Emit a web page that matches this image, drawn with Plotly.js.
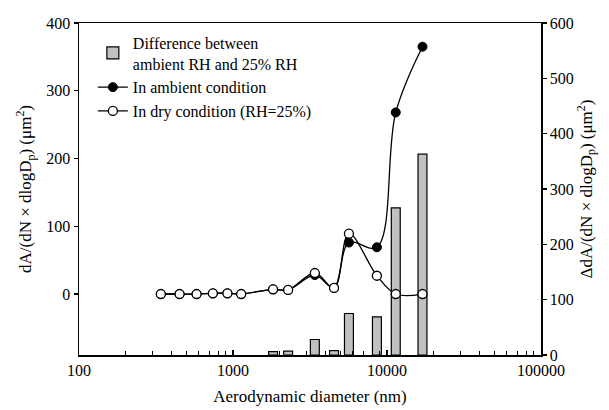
<!DOCTYPE html>
<html>
<head>
<meta charset="utf-8">
<script src="https://cdn.plot.ly/plotly-3.0.1.min.js"></script>
<style>html,body{margin:0;padding:0;background:#fff;}#chart{width:609px;height:410px;}</style>
</head>
<body>
<div id="chart"></div>
<script>
// Aerodynamic diameter (nm)
var diameter = [340, 450, 580, 740, 920, 1130, 1820, 2280, 3400, 4530, 5660, 8600, 11400, 17000];
// dA/(dN x dlogDp) in ambient condition
var ambient = [0, 0, 0, 1, 1, 0, 7, 6, 28, 9, 76, 69, 268, 365];
// dA/(dN x dlogDp) in dry condition (RH=25%)
var dry = [0, 0, 0, 1, 1, 0, 7, 6, 31, 9, 89, 27, 0, 0];
// Difference between ambient RH and 25% RH (right axis)
var diffDiameter = [1820, 2280, 3400, 4530, 5660, 8600, 11400, 17000];
var difference = [6, 7, 28, 8, 75, 69, 266, 363];

var xMajorTicks = [100, 1000, 10000, 100000];
var xMinorTicks = [200,300,400,500,600,700,800,900,2000,3000,4000,5000,6000,7000,8000,9000,20000,30000,40000,50000,60000,70000,80000,90000];
var yLeftTicks = [0, 100, 200, 300, 400];
var yRightTicks = [0, 100, 200, 300, 400, 500, 600];

var FAM = 'Liberation Serif';
var font = {family: FAM, size: 16, color: '#000'};

var traces = [
  {
    type: 'bar', name: 'Difference between<br>ambient RH and 25% RH',
    x: diffDiameter.map(function(d){ return Math.log10(d); }),
    y: difference, width: 0.058,
    xaxis: 'x', yaxis: 'y',
    marker: {color: '#c0c0c0', line: {color: '#000', width: 1.2}}
  },
  {
    type: 'scatter', mode: 'lines+markers', name: 'In ambient condition',
    x: diameter, y: ambient, xaxis: 'x2', yaxis: 'y2',
    line: {color: '#000', width: 1.3, shape: 'spline', smoothing: 1},
    marker: {symbol: 'circle', size: 9, color: '#000', line: {color: '#000', width: 1}}
  },
  {
    type: 'scatter', mode: 'lines+markers', name: 'In dry condition (RH=25%)',
    x: diameter, y: dry, xaxis: 'x2', yaxis: 'y2',
    line: {color: '#000', width: 1.3, shape: 'spline', smoothing: 1},
    marker: {symbol: 'circle', size: 9, color: '#fff', line: {color: '#000', width: 1.3}}
  }
];

var layout = {
  width: 609, height: 410,
  margin: {l: 79, r: 68, t: 23, b: 55},
  paper_bgcolor: '#fff', plot_bgcolor: '#fff',
  font: font,
  showlegend: true,
  legend: {x: 0.03, y: 0.992, xanchor: 'left', yanchor: 'top', bgcolor: 'rgba(0,0,0,0)',
           font: font, tracegroupgap: 0, itemwidth: 30},
  xaxis: {type: 'linear', range: [2, 5], visible: false, anchor: 'y'},
  yaxis: {
    side: 'right', anchor: 'x', range: [0, 600],
    tickvals: yRightTicks, ticks: 'outside', ticklen: 4, tickwidth: 1.2, tickcolor: '#000',
    showline: true, linecolor: '#000', linewidth: 1.5, showgrid: false, zeroline: false,
    tickfont: font,
    title: {text: 'ΔdA/(dN × dlogD<sub>p</sub>) (μm<sup>2</sup>)', font: {family: FAM, size: 17, color: '#000'}, standoff: 6}
  },
  xaxis2: {
    type: 'log', overlaying: 'x', anchor: 'y2', range: [2, 5],
    tickmode: 'array', tickvals: xMajorTicks, ticktext: xMajorTicks.map(String), tickangle: 0,
    ticks: 'inside', ticklen: 5, tickwidth: 1.2, tickcolor: '#000',
    minor: {tickmode: 'array', tickvals: xMinorTicks, ticks: 'inside', ticklen: 4, tickwidth: 1, tickcolor: '#000', showgrid: false},
    showline: true, mirror: true, linecolor: '#000', linewidth: 1.5, showgrid: false, zeroline: false,
    tickfont: font,
    title: {text: 'Aerodynamic diameter (nm)', font: {family: FAM, size: 17, color: '#000'}, standoff: 12}
  },
  yaxis2: {
    side: 'left', overlaying: 'y', anchor: 'x2', range: [-90, 400],
    tickvals: yLeftTicks, ticks: 'outside', ticklen: 4, tickwidth: 1.2, tickcolor: '#000',
    showline: true, linecolor: '#000', linewidth: 1.5, showgrid: false, zeroline: false,
    tickfont: font,
    title: {text: 'dA/(dN × dlogD<sub>p</sub>) (μm<sup>2</sup>)', font: {family: FAM, size: 17, color: '#000'}, standoff: 10}
  }
};

Plotly.newPlot('chart', traces, layout, {displayModeBar: false, staticPlot: true});
</script>
</body>
</html>
